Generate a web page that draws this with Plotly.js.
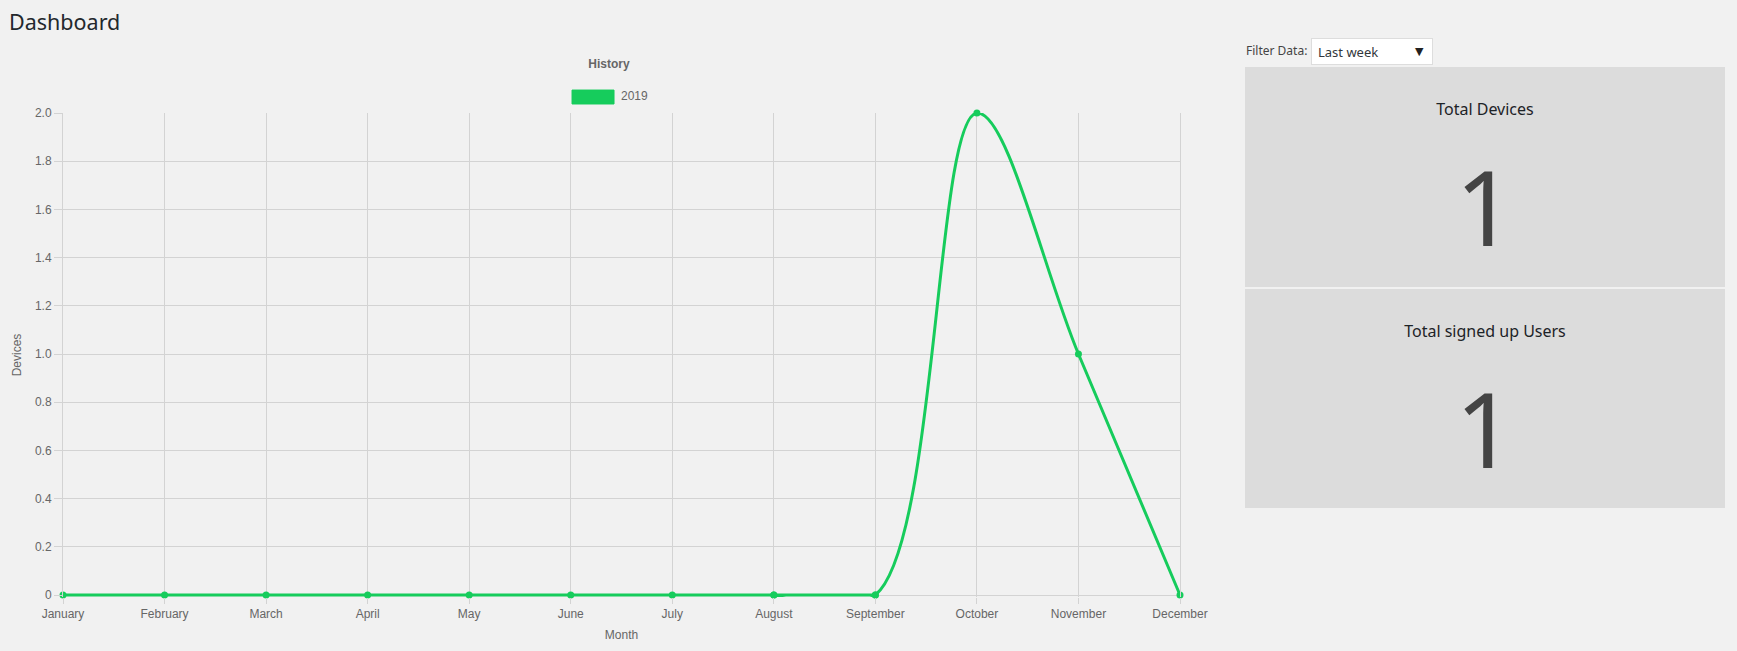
<!DOCTYPE html>
<html>
<head>
<meta charset="utf-8">
<title>Dashboard</title>
<script src="https://cdn.plot.ly/plotly-3.0.1.min.js"></script>
<style>
  html, body { margin: 0; padding: 0; background: #f1f1f1; }
  body { width: 1737px; height: 651px; position: relative; overflow: hidden; font-family: "Noto Sans", sans-serif; }
  .abs { position: absolute; white-space: nowrap; }
  #heading { left: 9px; top: 10.9px; font-size: 21.5px; line-height: 21.5px; color: #23282d; font-weight: 400; margin: 0; z-index: 5; }
  #history { left: 0; top: 0; width: 1218px; height: 651px; }
  #filterLabel { left: 1246px; top: 44.5px; font-size: 12px; line-height: 12px; color: #444; }
  #filterSelect { left: 1311px; top: 38px; width: 120px; height: 25px; background: #fff; border: 1px solid #ddd; }
  #filterSelect .val { left: 6px; top: 7px; font-size: 13px; line-height: 13px; color: #32373c; }
  #filterSelect .arrow { left: 103px; top: 7px; font-family: "DejaVu Sans", sans-serif; font-size: 11px; line-height: 11px; color: #222; }
  .card { left: 1245px; width: 480px; background: #dcdcdc; }
  .card .ttl { left: 0; width: 480px; text-align: center; top: 34px; font-size: 16px; line-height: 16px; color: #1d2327; }
  .card .num { left: 0; width: 480px; text-align: center; top: 86.6px; font-size: 104px; line-height: 104px; color: #444; }
</style>
</head>
<body>
<div id="history" class="abs"></div>
<h1 id="heading" class="abs">Dashboard</h1>

<div id="filterLabel" class="abs">Filter Data:</div>
<div id="filterSelect" class="abs">
  <span class="abs val">Last week</span>
  <span class="abs arrow">&#9660;</span>
</div>

<div class="abs card" style="top:67px;height:220px;">
  <div class="abs ttl">Total Devices</div>
  <div class="abs num" id="devicesNum"></div>
</div>
<div class="abs card" style="top:289px;height:219px;">
  <div class="abs ttl">Total signed up Users</div>
  <div class="abs num" id="usersNum"></div>
</div>

<script>
var months = ["January", "February", "March", "April", "May", "June",
  "July", "August", "September", "October", "November", "December"];
var devices2019 = [0, 0, 0, 0, 0, 0, 0, 0, 0, 2, 1, 0];
var seriesName = "2019";
var yTickVals = [0, 0.2, 0.4, 0.6, 0.8, 1.0, 1.2, 1.4, 1.6, 1.8, 2.0];
var yTickText = ["0", "0.2", "0.4", "0.6", "0.8", "1.0", "1.2", "1.4", "1.6", "1.8", "2.0"];
var totalDevices = 1;
var totalUsers = 1;

document.getElementById("devicesNum").textContent = totalDevices;
document.getElementById("usersNum").textContent = totalUsers;

function plotHistory() {
  var green = "#16cc5c";
  var grid = "#d3d3d3";
  var chartFont = { family: "Liberation Sans, Arial, sans-serif", size: 12, color: "#666" };

  // chart.js keeps its curve inside the chart area, so the run of zeros stays flat:
  // draw the smoothed part from the point before the last zero, and the flat run on top of it
  var lastZero = 0;
  for (var i = 0; i < devices2019.length; i++) {
    if (devices2019[i] !== 0) break;
    lastZero = i;
  }
  var curveStart = Math.max(lastZero - 1, 0);

  var curve = {
    x: months.slice(curveStart),
    y: devices2019.slice(curveStart),
    mode: "lines+markers",
    type: "scatter",
    name: seriesName,
    line: { color: green, width: 3, shape: "spline", smoothing: 1 },
    marker: { color: green, size: 7 },
    cliponaxis: false
  };
  var flat = {
    x: months.slice(0, lastZero + 1),
    y: devices2019.slice(0, lastZero + 1),
    mode: "lines+markers",
    type: "scatter",
    name: seriesName,
    line: { color: green, width: 3 },
    marker: { color: green, size: 7 },
    cliponaxis: false
  };

  // a couple of px below zero so the 3px line on 0 is not cut in half
  var padPx = 2;
  var plotH = 482;
  var yMin = -padPx * 2 / plotH;

  var layout = {
    width: 1218,
    height: 651,
    margin: { l: 63, r: 38, t: 113, b: 56 - padPx },
    paper_bgcolor: "#f1f1f1",
    plot_bgcolor: "#f1f1f1",
    font: chartFont,
    showlegend: false,
    title: {
      text: "History",
      font: { family: chartFont.family, size: 12, color: "#666", weight: "bold" },
      xref: "container",
      x: 0.5,
      xanchor: "center",
      yref: "container",
      y: 1 - 64 / 651,
      yanchor: "middle"
    },
    xaxis: {
      type: "category",
      categoryorder: "array",
      categoryarray: months,
      range: [0, months.length - 1],
      showgrid: true,
      gridcolor: grid,
      showline: false,
      ticks: "outside",
      ticklen: 8 - padPx,
      tickcolor: grid,
      tickfont: chartFont,
      fixedrange: true,
      title: { text: "Month", font: chartFont, standoff: 10 }
    },
    yaxis: {
      range: [yMin, 2],
      tickmode: "array",
      tickvals: yTickVals,
      ticktext: yTickText,
      showgrid: true,
      gridcolor: grid,
      zeroline: false,
      showline: true,
      linecolor: grid,
      mirror: true,
      ticks: "outside",
      ticklen: 8,
      tickcolor: grid,
      tickfont: chartFont,
      fixedrange: true,
      title: { text: "Devices", font: chartFont, standoff: 10 }
    },
    // chart.js style legend box
    shapes: [{
      type: "rect",
      xref: "paper", yref: "paper",
      x0: 0.4557, x1: 0.4933,
      y0: 1.0186, y1: 1.0474,
      fillcolor: green,
      line: { color: green, width: 1 }
    }],
    annotations: [{
      xref: "paper", yref: "paper",
      x: 0.4978, y: 1.035,
      xanchor: "left", yanchor: "middle",
      text: seriesName,
      showarrow: false,
      font: chartFont
    }]
  };

  Plotly.newPlot("history", [curve, flat], layout, { displayModeBar: false, responsive: false });
}
plotHistory();
</script>
</body>
</html>
